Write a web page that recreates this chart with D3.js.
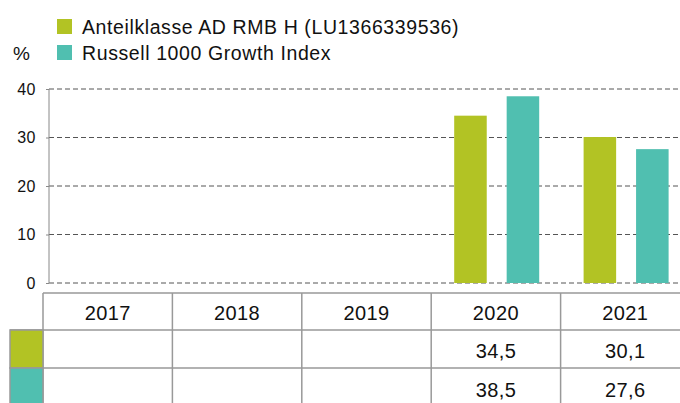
<!DOCTYPE html>
<html>
<head>
<meta charset="utf-8">
<script src="https://cdn.jsdelivr.net/npm/d3@7"></script>
<style>
  body { margin: 0; background: #fff; }
  svg { display: block; font-family: "Liberation Sans", Arial, sans-serif; }
</style>
</head>
<body>
<div id="chart"></div>
<script>
// Data
const years = ["2017", "2018", "2019", "2020", "2021"];
const seriesNames = ["Anteilklasse AD RMB H (LU1366339536)", "Russell 1000 Growth Index"];
const fundValues = [null, null, null, 34.5, 30.1];
const indexValues = [null, null, null, 38.5, 27.6];
const yTicks = [0, 10, 20, 30, 40];
const colors = ["#b2c324", "#50bfb0"];

const width = 680;
const height = 403;

const svg = d3.select("#chart")
    .append("svg")
    .attr("width", width)
    .attr("height", height);

// Scales
const x = d3.scaleBand()
    .domain(years)
    .range([43, 690])
    .padding(0);

const xInner = d3.scaleBand()
    .domain([0, 1])
    .range([23, 108])
    .paddingInner(0.38);

const y = d3.scaleLinear()
    .domain([0, 40])
    .range([283, 89]);

// Gridlines
svg.append("g")
    .selectAll("line")
    .data(yTicks)
    .join("line")
    .attr("x1", 49)
    .attr("x2", width)
    .attr("y1", d => y(d))
    .attr("y2", d => y(d))
    .attr("stroke", "#555")
    .attr("stroke-width", 1)
    .attr("stroke-dasharray", "5,3");

// Y axis
const yAxis = d3.axisLeft(y).tickValues(yTicks).tickSize(3).tickPadding(10);
const gy = svg.append("g")
    .attr("transform", "translate(49,0)")
    .call(yAxis);
gy.select(".domain").attr("stroke", "#888").attr("d", `M0,${y(40)}V${y(0)}`);
gy.selectAll(".tick line").attr("stroke", "#888");
gy.selectAll(".tick text")
    .attr("fill", "#111")
    .style("font-size", "16px")
    .style("letter-spacing", "0.5px")
    .style("font-family", "'Liberation Sans', Arial, sans-serif");

// Bars
const series = [fundValues, indexValues];
series.forEach((vals, i) => {
    svg.append("g")
        .selectAll("rect")
        .data(years.map((yr, j) => ({ year: yr, value: vals[j] })).filter(d => d.value != null))
        .join("rect")
        .attr("x", d => x(d.year) + xInner(i))
        .attr("y", d => y(d.value))
        .attr("width", xInner.bandwidth())
        .attr("height", d => y(0) - y(d.value))
        .attr("fill", colors[i]);
});

// Legend
const legend = svg.append("g");
seriesNames.forEach((name, i) => {
    const ly = 19 + i * 26;
    legend.append("rect")
        .attr("x", 57).attr("y", ly)
        .attr("width", 15).attr("height", 15)
        .attr("fill", colors[i]);
    legend.append("text")
        .attr("x", 82).attr("y", ly + 14.5)
        .attr("fill", "#111")
        .style("font-size", "19.5px")
        .style("letter-spacing", "0.6px")
        .text(name);
});
svg.append("text")
    .attr("x", 13).attr("y", 60)
    .attr("fill", "#111")
    .style("font-size", "19px")
    .text("%");

// Table
const rowTop = [293, 330, 368, 406];
const grid = svg.append("g").attr("stroke", "#999").attr("stroke-width", 1.5);

// swatch cells
series.forEach((vals, i) => {
    svg.append("rect")
        .attr("x", 10).attr("y", rowTop[i + 1])
        .attr("width", 33).attr("height", rowTop[i + 2] - rowTop[i + 1])
        .attr("fill", colors[i])
        .attr("stroke", "#999").attr("stroke-width", 1.5);
});

grid.append("line").attr("x1", 43).attr("x2", 690).attr("y1", rowTop[0]).attr("y2", rowTop[0]);
grid.append("line").attr("x1", 10).attr("x2", 690).attr("y1", rowTop[1]).attr("y2", rowTop[1]);
grid.append("line").attr("x1", 10).attr("x2", 690).attr("y1", rowTop[2]).attr("y2", rowTop[2]);
grid.selectAll(".vline")
    .data(years.map(d => x(d)).concat([x.range()[1]]))
    .join("line")
    .attr("x1", d => d).attr("x2", d => d)
    .attr("y1", rowTop[0]).attr("y2", height + 5);

const tableText = svg.append("g")
    .attr("fill", "#111")
    .attr("text-anchor", "middle")
    .style("font-size", "20px")
    .style("letter-spacing", "0.4px");

tableText.selectAll(".yr")
    .data(years)
    .join("text")
    .attr("x", d => x(d) + x.bandwidth() / 2)
    .attr("y", 320)
    .text(d => d);

const fmt = v => v.toFixed(1).replace(".", ",");
series.forEach((vals, i) => {
    tableText.append("g")
        .selectAll("text")
        .data(years.map((yr, j) => ({ year: yr, value: vals[j] })).filter(d => d.value != null))
        .join("text")
        .attr("x", d => x(d.year) + x.bandwidth() / 2)
        .attr("y", 358 + i * 38.5)
        .text(d => fmt(d.value));
});
</script>
</body>
</html>
